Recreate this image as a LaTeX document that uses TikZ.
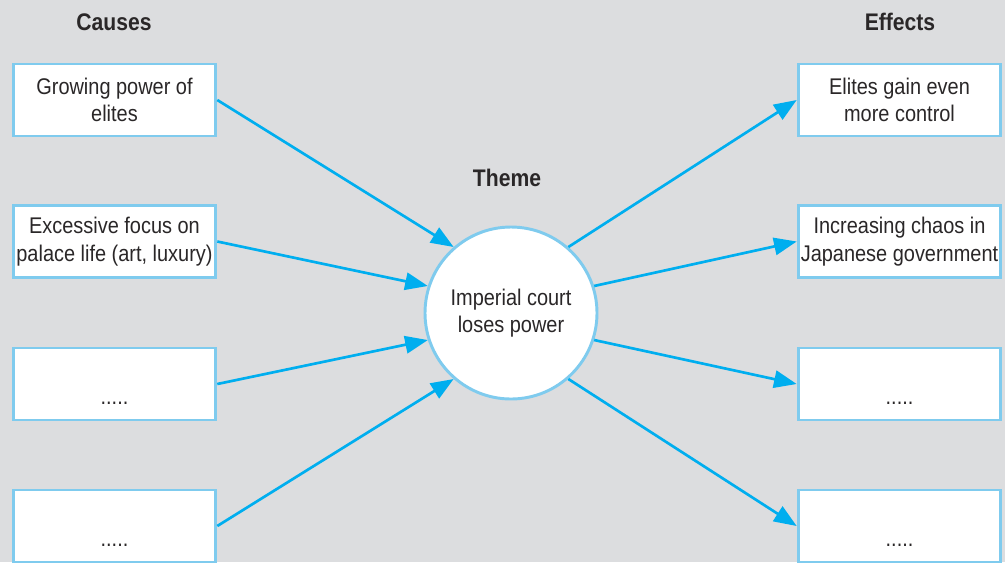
\documentclass[tikz,border=0pt]{standalone}
\usepackage{fontspec}
\setmainfont{Liberation Sans}[FakeStretch=0.88]
\usetikzlibrary{arrows.meta,positioning}
\definecolor{bgGray}{HTML}{DCDDDF}
\definecolor{boxBlue}{HTML}{7FCBEE}
\definecolor{arrowBlue}{HTML}{00AEEF}
\definecolor{textGray}{HTML}{2A2728}

\begin{document}
\begin{tikzpicture}[x=0.75pt,y=-0.75pt,
    box/.style={draw=boxBlue, line width=2.2pt, fill=white, minimum width=152pt,
      minimum height=54pt, inner sep=2pt, align=center, text=textGray,
      font=\fontsize{17}{20.5}\selectfont},
    themecircle/.style={circle, draw=boxBlue, line width=2.2pt, fill=white,
      minimum size=129pt, inner sep=0pt, align=center, text=textGray,
      font=\fontsize{17}{20.5}\selectfont},
    heading/.style={text=textGray, font=\fontsize{18}{21}\selectfont\bfseries},
    link/.style={-{Triangle[length=17pt,width=13pt]}, line width=2pt, arrowBlue}]
	% background
	\fill[bgGray] (0,0) rectangle (1005,562);
	\useasboundingbox (0,0) rectangle (1005,562);

	% headings
	\node[heading] (causes) at (114,22) {Causes};
	\node[heading] (effects) at (900,22) {Effects};
	\node[heading] (themehead) at (507,178) {Theme};

	% theme in the middle
	\node[themecircle] (theme) at (511,313) {Imperial court\\loses power};

	% causes
	\node[box] (c1) at (114.5,100) {Growing power of\\elites};
	\node[box] (c2) at (114.5,241.5) {Excessive focus on\\palace life (art, luxury)};
	\node[box] (c3) at (114.5,384) {\mbox{}\\[10pt].....};
	\node[box] (c4) at (114.5,526) {\mbox{}\\[10pt].....};

	% effects
	\node[box] (e1) at (899.5,100) {Elites gain even\\more control};
	\node[box] (e2) at (899.5,241.5) {Increasing chaos in\\Japanese government};
	\node[box] (e3) at (899.5,384) {\mbox{}\\[10pt].....};
	\node[box] (e4) at (899.5,526) {\mbox{}\\[10pt].....};

	% causes to theme
	\draw[link] (c1.east) -- (theme.131);
	\draw[link] (c2.east) -- (theme.162);
	\draw[link] (c3.east) -- (theme.198);
	\draw[link] (c4.east) -- (theme.229);

	% theme to effects
	\draw[link] (theme.49) -- (e1.west);
	\draw[link] (theme.18) -- (e2.west);
	\draw[link] (theme.-18) -- (e3.west);
	\draw[link] (theme.-49) -- (e4.west);
\end{tikzpicture}
\end{document}
